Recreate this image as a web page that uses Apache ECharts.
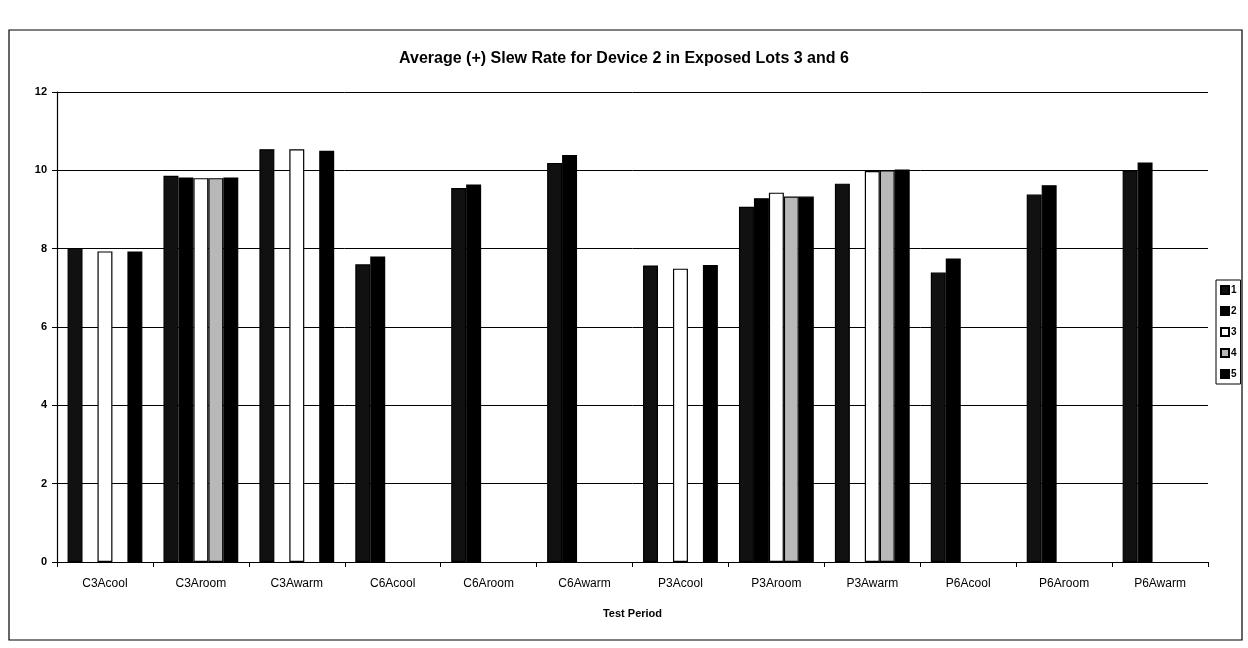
<!DOCTYPE html>
<html>
<head>
<meta charset="utf-8">
<script src="https://cdn.jsdelivr.net/npm/echarts@6/dist/echarts.min.js"></script>
<style>
html,body{margin:0;padding:0;background:#fff;}
#chart{width:1248px;height:648px;}
</style>
</head>
<body>
<div id="chart"></div>
<script>
const categories = ['C3Acool','C3Aroom','C3Awarm','C6Acool','C6Aroom','C6Awarm','P3Acool','P3Aroom','P3Awarm','P6Acool','P6Aroom','P6Awarm'];
const seriesNames = ['1','2','3','4','5'];
const s1 = [8.02, 9.86, 10.54, 7.60, 9.55, 10.19, 7.57, 9.07, 9.66, 7.39, 9.38, 10.00];
const s2 = [null, 9.82, null, 7.80, 9.64, 10.39, null, 9.29, null, 7.75, 9.62, 10.20];
const s3 = [7.93, 9.80, 10.54, null, null, null, 7.49, 9.43, 9.98, null, null, null];
const s4 = [null, 9.80, null, null, null, null, null, 9.33, 10.00, null, null, null];
const s5 = [7.93, 9.82, 10.50, null, null, null, 7.58, 9.33, 10.02, null, null, null];
const yTicks = [0, 2, 4, 6, 8, 10, 12];

const allValues = [s1, s2, s3, s4, s5];
const fills = ['#111111', '#000000', '#ffffff', '#b8b8b8', '#000000'];
const FONT = '"Liberation Sans", Arial, sans-serif';

const chart = echarts.init(document.getElementById('chart'), null, {renderer: 'canvas'});

const series = allValues.map((vals, i) => ({
  name: seriesNames[i],
  type: 'bar',
  data: vals.map(v => v === null ? '-' : v),
  barGap: '0%',
  barCategoryGap: '22%',
  itemStyle: {color: fills[i], borderColor: '#000', borderWidth: 1.2},
  emphasis: {disabled: true}
}));

chart.setOption({
  animation: false,
  backgroundColor: '#fff',
  title: {
    text: 'Average (+) Slew Rate for Device 2 in Exposed Lots 3 and 6',
    left: 'center',
    top: 46,
    textStyle: {fontFamily: FONT, fontSize: 16, fontWeight: 'bold', color: '#000'}
  },
  legend: {
    orient: 'vertical',
    left: 1216,
    top: 280,
    itemWidth: 8,
    itemHeight: 8,
    itemGap: 11,
    padding: [5, 4, 5, 4],
    borderColor: '#000',
    borderWidth: 1,
    icon: 'rect',
    data: seriesNames,
    textStyle: {fontFamily: FONT, fontSize: 10, fontWeight: 'bold', color: '#000', padding: [0,0,0,-3]}
  },
  graphic: [{
    type: 'rect',
    shape: {x: 9, y: 30, width: 1233, height: 610},
    style: {fill: 'none', stroke: '#000', lineWidth: 1.2},
    silent: true
  }],
  grid: {left: 57, right: 40, top: 92, bottom: 86, containLabel: false},
  xAxis: {
    type: 'category',
    data: categories,
    name: 'Test Period',
    nameLocation: 'middle',
    nameGap: 46,
    nameTextStyle: {fontFamily: FONT, fontSize: 11, fontWeight: 'bold', color: '#000'},
    axisLine: {lineStyle: {color: '#000', width: 1.2}},
    axisTick: {show: true, length: 5, lineStyle: {color: '#000'}},
    axisLabel: {fontFamily: FONT, fontSize: 12, color: '#000', margin: 16, interval: 0},
    splitLine: {show: false}
  },
  yAxis: {
    type: 'value',
    min: yTicks[0],
    max: yTicks[yTicks.length - 1],
    interval: 2,
    axisLine: {show: true, lineStyle: {color: '#000', width: 1.2}},
    axisTick: {show: true, length: 5, lineStyle: {color: '#000'}},
    axisLabel: {fontFamily: FONT, fontSize: 11, fontWeight: 'bold', color: '#000', margin: 10},
    splitLine: {show: true, lineStyle: {color: '#000', width: 1}}
  },
  series: series
});
</script>
</body>
</html>
